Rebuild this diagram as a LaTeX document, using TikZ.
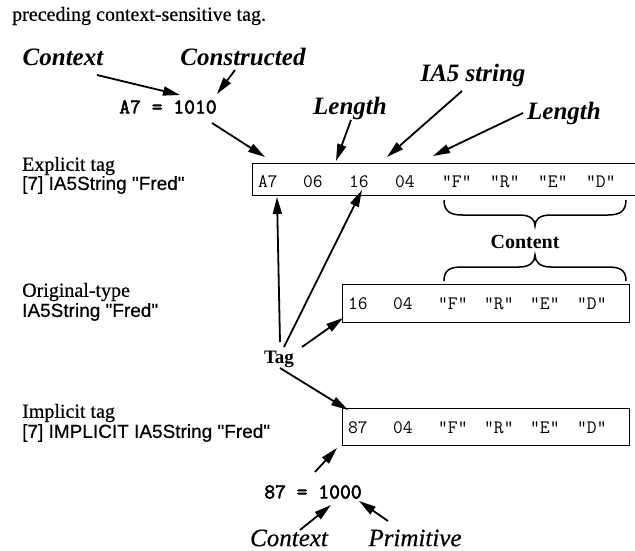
\documentclass[tikz,border=0pt]{standalone}
\usepackage{fontspec}
\setmainfont{Liberation Serif}
\newfontfamily\serifh{Liberation Serif}[FakeBold=0.5]
\newfontfamily\sansh{Liberation Sans}[FakeBold=0.5]
\newfontfamily\monob{Latin Modern Mono}[FakeBold=2.5]
\usetikzlibrary{arrows.meta}
\begin{document}
\begin{tikzpicture}[x=1pt,y=-1pt,
  arr/.style={line width=1.8pt,-{Triangle[length=17pt,width=9pt]}},
  lbl/.style={font=\fontsize{25}{28}\selectfont\bfseries\itshape,inner sep=0},
  ilbl/.style={font=\serifh\fontsize{25}{28}\selectfont\itshape,inner sep=0},
  desc/.style={font=\serifh\fontsize{20}{22}\selectfont,anchor=west,inner sep=0},
  descs/.style={font=\sansh\fontsize{19}{22}\selectfont,anchor=west,inner sep=0},
  bser/.style={font=\fontsize{20}{22}\selectfont\bfseries,inner sep=0},
  tok/.style={font=\ttfamily\fontsize{19}{20}\selectfont,anchor=base west,inner sep=0},
  bmono/.style={font=\monob\fontsize{21}{22}\selectfont,inner sep=0},
  boxst/.style={draw,line width=1.3pt,inner sep=0,anchor=north west},
  bracest/.style={line width=1.5pt}]
\useasboundingbox (0,0) rectangle (635,551);
\clip (0,0) rectangle (635,551);

% heading
\node[desc] (head) at (12,16) {preceding context-sensitive tag.};

% top labels
\node[lbl] (ctx) at (63,57) {Context};
\node[lbl] (cons) at (243,57) {Constructed};
\node[bmono] (a7) at (168,107) {A7 = 1010};
\node[lbl] (ia5) at (473,75) {IA5 string};
\node[lbl] (len1) at (350,108) {Length};
\node[lbl] (len2) at (564,113) {Length};

% left descriptions
\node[desc] (expl) at (22,166) {Explicit tag};
\node[descs] (expl2) at (22,185) {[7] IA5String "Fred"};
\node[desc] (orig) at (22,292) {Original-type};
\node[descs] (orig2) at (22,312) {IA5String "Fred"};
\node[desc] (impl) at (22,413) {Implicit tag};
\node[descs] (impl2) at (22,433) {[7] IMPLICIT IA5String "Fred"};

% boxes
\node[boxst,minimum width=400pt,minimum height=32pt] (b1) at (252,163) {};
\node[boxst,minimum width=287pt,minimum height=38pt] (b2) at (342,284) {};
\node[boxst,minimum width=287pt,minimum height=37pt] (b3) at (342,408) {};

% box 1 tokens
\node[tok] (t1a) at (258,187) {A7};
\node[tok] (t1b) at (303,187) {06};
\node[tok] (t1c) at (349,187) {16};
\node[tok] (t1d) at (395,187) {04};
\node[tok] (t1e) at (442,187) {"F"};
\node[tok] (t1f) at (490,187) {"R"};
\node[tok] (t1g) at (538,187) {"E"};
\node[tok] (t1h) at (586,187) {"D"};
% box 2 tokens
\node[tok] (t2a) at (348,309) {16};
\node[tok] (t2b) at (393,309) {04};
\node[tok] (t2c) at (438,309) {"F"};
\node[tok] (t2d) at (484,309) {"R"};
\node[tok] (t2e) at (530,309) {"E"};
\node[tok] (t2f) at (577,309) {"D"};
% box 3 tokens
\node[tok] (t3a) at (348,433) {87};
\node[tok] (t3b) at (393,433) {04};
\node[tok] (t3c) at (438,433) {"F"};
\node[tok] (t3d) at (484,433) {"R"};
\node[tok] (t3e) at (530,433) {"E"};
\node[tok] (t3f) at (577,433) {"D"};

% braces and Content
\draw[bracest] (444,200) .. controls (444,211) and (450,215) .. (462,215) -- (519,215)
  .. controls (530,215) and (535,219) .. (535,226)
  .. controls (535,219) and (540,215) .. (551,215) -- (608,215)
  .. controls (620,215) and (626,211) .. (626,200);
\node[bser] (content) at (525,242) {Content};
\draw[bracest] (444,281) .. controls (444,270) and (450,267) .. (462,267) -- (519,267)
  .. controls (530,267) and (535,262) .. (535,255)
  .. controls (535,262) and (540,267) .. (551,267) -- (608,267)
  .. controls (620,267) and (626,270) .. (626,281);

% Tag
\node[bser,font=\fontsize{19}{22}\selectfont\bfseries] (tag) at (279,359) {Tag};

% bottom
\node[bmono] (b87) at (313,492) {87 = 1000};
\node[ilbl] (ctx2) at (289,538) {Context};
\node[ilbl] (prim) at (415,538) {Primitive};

% connector coordinates
\coordinate (c1s) at (97,75);   \coordinate (c1e) at (180,95);
\coordinate (c2s) at (235,70);  \coordinate (c2e) at (217,94);
\coordinate (c3s) at (212,123); \coordinate (c3e) at (265,157);
\coordinate (c4s) at (351,120); \coordinate (c4e) at (336,161);
\coordinate (c5s) at (462,91);  \coordinate (c5e) at (387,157);
\coordinate (c6s) at (523,113); \coordinate (c6e) at (433,156);
\coordinate (g1s) at (280,342); \coordinate (g1e) at (277,197);
\coordinate (g2s) at (284,347); \coordinate (g2e) at (362,190);
\coordinate (g3s) at (302,347); \coordinate (g3e) at (343,318);
\coordinate (g4s) at (280,368); \coordinate (g4e) at (348,410);
\coordinate (d1s) at (315,472); \coordinate (d1e) at (337,448);
\coordinate (d2s) at (300,530); \coordinate (d2e) at (331,505);
\coordinate (d3s) at (388,521); \coordinate (d3e) at (359,501);

\draw[arr] (c1s) -- (c1e);
\draw[arr] (c2s) -- (c2e);
\draw[arr] (c3s) -- (c3e);
\draw[arr] (c4s) -- (c4e);
\draw[arr] (c5s) -- (c5e);
\draw[arr] (c6s) -- (c6e);
\draw[arr] (g1s) -- (g1e);
\draw[arr] (g2s) -- (g2e);
\draw[arr] (g3s) -- (g3e);
\draw[arr] (g4s) -- (g4e);
\draw[arr] (d1s) -- (d1e);
\draw[arr] (d2s) -- (d2e);
\draw[arr] (d3s) -- (d3e);
\end{tikzpicture}
\end{document}
